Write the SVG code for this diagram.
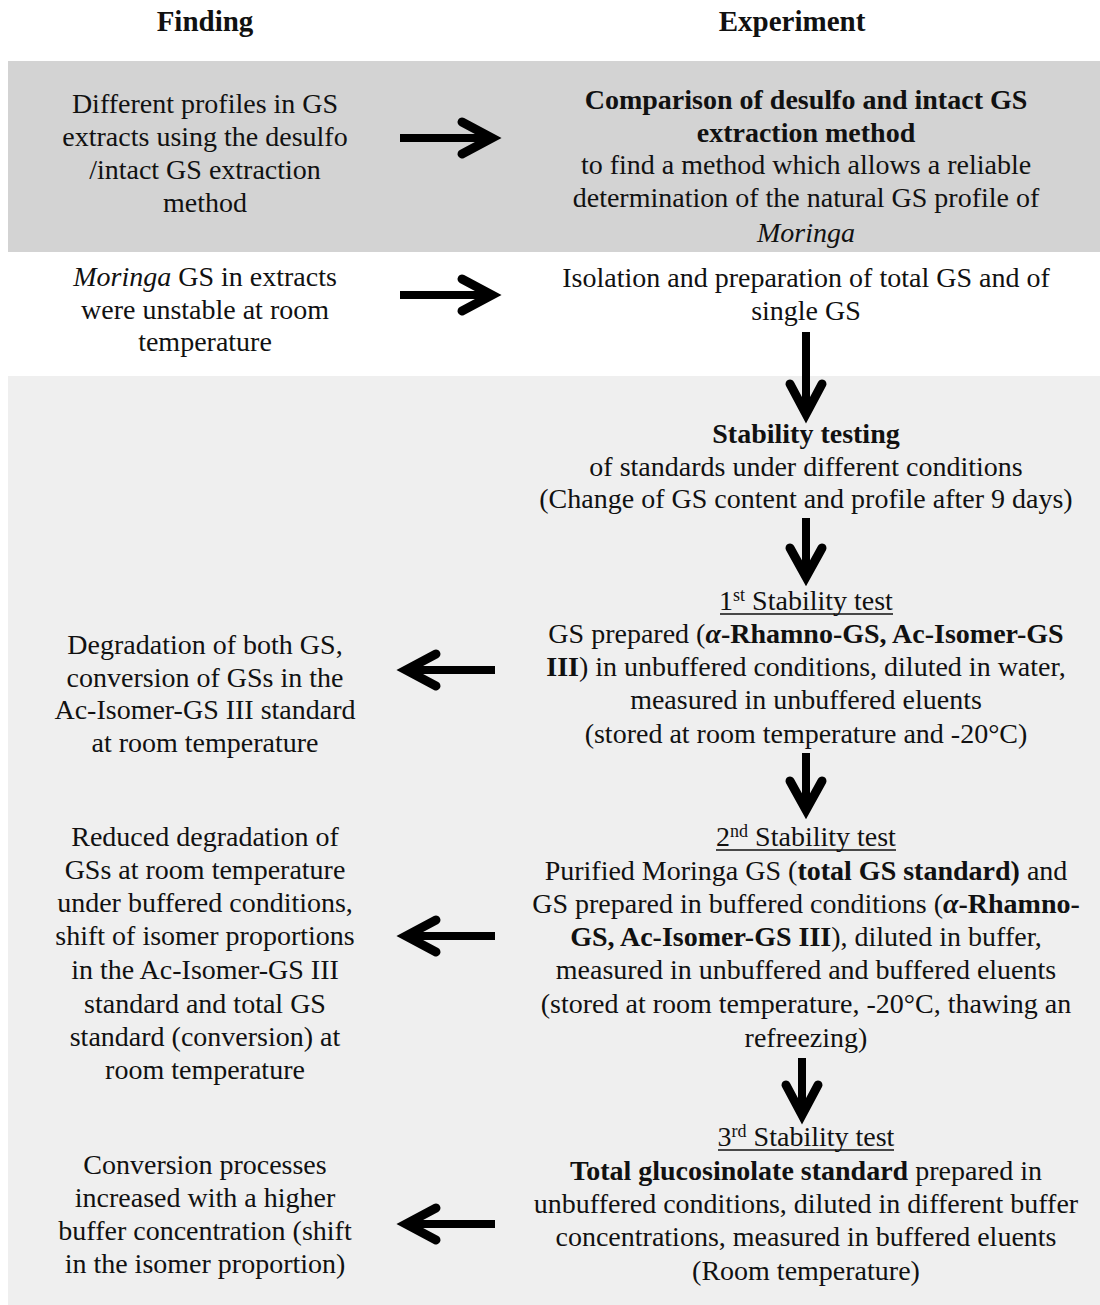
<svg xmlns="http://www.w3.org/2000/svg" width="1100" height="1305" viewBox="0 0 1100 1305">
<defs>
<style>
text{font-family:"Liberation Serif","Times New Roman",serif;font-size:28px;fill:#111;text-anchor:middle}
.h{font-weight:bold;font-size:29px}
.b{font-weight:bold}
.i{font-style:italic}
.bi{font-weight:bold;font-style:italic}
.sup{font-size:18px;baseline-shift:9px}
.ul{stroke:#111;stroke-width:1.6}
.sh{fill:none;stroke:#000;stroke-width:8;stroke-linecap:butt}
.hd{fill:none;stroke:#000;stroke-width:9;stroke-linecap:round;stroke-linejoin:miter}
</style>
</defs>
<rect x="0" y="0" width="1100" height="1305" fill="#ffffff"/>
<rect x="8" y="61" width="1092" height="191" fill="#d3d3d3"/>
<rect x="8" y="376" width="1092" height="929" fill="#efefef"/>

<g id="headers">
<text class="h" x="205" y="31">Finding</text>
<text class="h" x="792" y="31">Experiment</text>
</g>

<g id="finding1">
<text x="205" y="113">Different profiles in GS</text>
<text x="205" y="146">extracts using the desulfo</text>
<text x="205" y="179">/intact GS extraction</text>
<text x="205" y="212">method</text>
</g>

<g id="experiment1">
<text x="806" y="109" class="b">Comparison of desulfo and intact GS</text>
<text x="806" y="142" class="b">extraction method</text>
<text x="806" y="174">to find a method which allows a reliable</text>
<text x="806" y="207">determination of the natural GS profile of</text>
<text x="806" y="242" class="i">Moringa</text>
</g>

<g id="finding2">
<text x="205" y="286"><tspan class="i">Moringa</tspan> GS in extracts</text>
<text x="205" y="319">were unstable at room</text>
<text x="205" y="351">temperature</text>
</g>

<g id="experiment2">
<text x="806" y="287">Isolation and preparation of total GS and of</text>
<text x="806" y="320">single GS</text>
</g>

<g id="stability">
<text x="806" y="443" class="b">Stability testing</text>
<text x="806" y="476">of standards under different conditions</text>
<text x="806" y="508">(Change of GS content and profile after 9 days)</text>
</g>

<g id="test1">
<text x="806" y="610">1<tspan class="sup">st</tspan> Stability test</text>
<line class="ul" x1="720" y1="614" x2="893" y2="614"/>
<text x="806" y="643">GS prepared (<tspan class="bi">α</tspan><tspan class="b">-Rhamno-GS, Ac-Isomer-GS</tspan></text>
<text x="806" y="676"><tspan class="b">III</tspan>) in unbuffered conditions, diluted in water,</text>
<text x="806" y="709">measured in unbuffered eluents</text>
<text x="806" y="743">(stored at room temperature and -20°C)</text>
</g>

<g id="finding3">
<text x="205" y="654">Degradation of both GS,</text>
<text x="205" y="687">conversion of GSs in the</text>
<text x="205" y="719">Ac-Isomer-GS III standard</text>
<text x="205" y="752">at room temperature</text>
</g>

<g id="test2">
<text x="806" y="846">2<tspan class="sup">nd</tspan> Stability test</text>
<line class="ul" x1="716" y1="850" x2="896" y2="850"/>
<text x="806" y="880">Purified Moringa GS (<tspan class="b">total GS standard)</tspan> and</text>
<text x="806" y="913">GS prepared in buffered conditions (<tspan class="bi">α</tspan><tspan class="b">-Rhamno-</tspan></text>
<text x="806" y="946"><tspan class="b">GS, Ac-Isomer-GS III</tspan>), diluted in buffer,</text>
<text x="806" y="979">measured in unbuffered and buffered eluents</text>
<text x="806" y="1013">(stored at room temperature, -20°C, thawing an</text>
<text x="806" y="1047">refreezing)</text>
</g>

<g id="finding4">
<text x="205" y="846">Reduced degradation of</text>
<text x="205" y="879">GSs at room temperature</text>
<text x="205" y="912">under buffered conditions,</text>
<text x="205" y="945">shift of isomer proportions</text>
<text x="205" y="979">in the Ac-Isomer-GS III</text>
<text x="205" y="1013">standard and total GS</text>
<text x="205" y="1046">standard (conversion) at</text>
<text x="205" y="1079">room temperature</text>
</g>

<g id="test3">
<text x="806" y="1146">3<tspan class="sup">rd</tspan> Stability test</text>
<line class="ul" x1="718" y1="1150" x2="894" y2="1150"/>
<text x="806" y="1180"><tspan class="b">Total glucosinolate standard</tspan> prepared in</text>
<text x="806" y="1213">unbuffered conditions, diluted in different buffer</text>
<text x="806" y="1246">concentrations, measured in buffered eluents</text>
<text x="806" y="1280">(Room temperature)</text>
</g>

<g id="finding5">
<text x="205" y="1174">Conversion processes</text>
<text x="205" y="1207">increased with a higher</text>
<text x="205" y="1240">buffer concentration (shift</text>
<text x="205" y="1273">in the isomer proportion)</text>
</g>

<g id="connectors">
<path class="sh" d="M400 138 H490"/><path class="hd" d="M462 122 L492 138 L462 154"/>
<path class="sh" d="M400 295 H490"/><path class="hd" d="M462 279 L492 295 L462 311"/>
<path class="sh" d="M806 332 V412"/><path class="hd" d="M790 384 L806 414 L822 384"/>
<path class="sh" d="M806 518 V574"/><path class="hd" d="M790 548 L806 577 L822 548"/>
<path class="sh" d="M806 753 V807"/><path class="hd" d="M790 781 L806 810 L822 781"/>
<path class="sh" d="M802 1058 V1112"/><path class="hd" d="M786 1085 L802 1115 L818 1085"/>
<path class="sh" d="M495 670 H408"/><path class="hd" d="M436 654 L406 670 L436 686"/>
<path class="sh" d="M495 936 H408"/><path class="hd" d="M436 920 L406 936 L436 952"/>
<path class="sh" d="M495 1224 H408"/><path class="hd" d="M436 1208 L406 1224 L436 1240"/>
</g>
</svg>
